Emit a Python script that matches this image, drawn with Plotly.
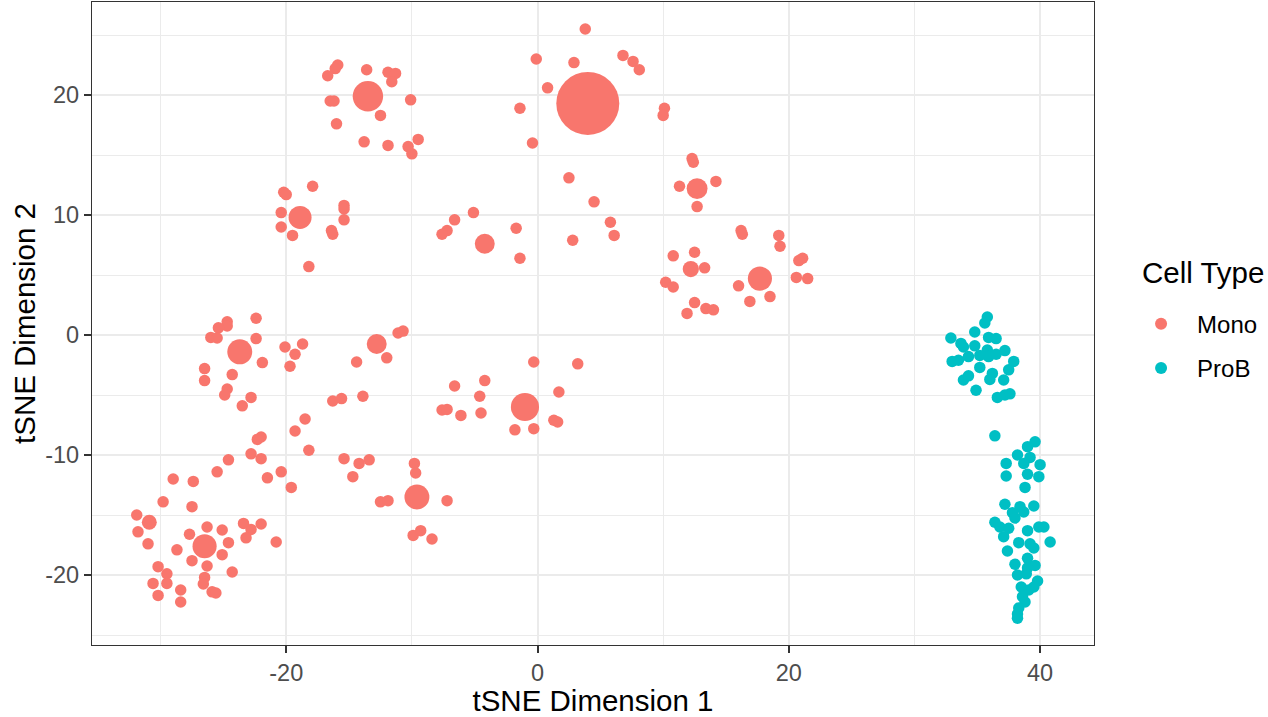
import plotly.graph_objects as go
import numpy as np

# ---- Data ----
mono_x = [
    -13.5, -15.9, -16.1, -16.7, -13.6, -11.9, -11.3, -11.6, -16.5, -16.2, -10.1, -12.5, -16.0, -13.8, -11.9, -10.3, -10.0, -9.5,
    -18.9, -20.2, -20.0, -17.9, -20.4, -20.4, -19.5, -15.4, -15.4, -15.4, -16.4, -16.3, -18.2,
    4.0, 3.8, -0.1, 2.9, 6.8, 7.6, 8.1, 0.8, -1.4, 10.1, 10.0, -0.4,
    12.7, 12.3, 12.4, 11.3, 14.2, 12.7,
    -4.2, -5.1, -6.6, -7.2, -7.6, -1.7, -1.4, 2.5, 4.5, 5.8, 6.1, 2.8,
    17.7, 16.2, 16.3, 19.2, 19.3, 21.1, 20.8, 20.6, 21.5, 16.0, 16.9, 18.5,
    12.2, 10.8, 12.5, 13.3, 10.2, 10.8, 12.5, 11.9, 13.4, 14.0,
    -23.7, -22.4, -24.7, -24.7, -25.4, -26.0, -25.5, -22.4, -21.9, -26.5, -26.5, -24.3, -24.7, -24.9, -22.8, -23.5,
    -20.1, -18.7, -19.3, -19.7,
    -12.8, -11.1, -10.7, -12.0, -14.4, -13.9, -16.3, -15.6,
    -18.5, -19.3, -18.2, -22.0, -22.3, -22.8, -22.0, -24.6, -25.5, -21.5, -20.4, -19.6, -29.0, -27.4, -29.8, -27.5,
    -9.6, -15.4, -14.2, -13.4, -14.7, -9.8, -9.7, -12.5, -11.9, -9.9, -9.3, -8.4, -7.2,
    -26.5, -31.9, -30.9, -31.8, -31.0, -27.7, -26.3, -25.1, -24.6, -25.1, -23.4, -22.8, -22.0, -23.2, -20.8, -28.7,
    -27.5, -26.3, -24.3, -30.2, -29.5, -29.5, -30.6, -30.2, -28.4, -28.4, -26.5, -26.6, -25.9, -25.6,
    -1.0, -0.3, 3.2, 1.7, -6.6, -4.2, -4.6, -7.6, -7.2, -6.1, -4.5, 1.3, 1.6, -1.8, -0.3,
]
mono_y = [
    19.9, 22.5, 22.2, 21.6, 22.1, 21.9, 21.8, 21.1, 19.5, 19.5, 19.6, 18.3, 17.6, 16.1, 15.8, 15.7, 15.1, 16.3,
    9.8, 11.9, 11.7, 12.4, 10.2, 9.0, 8.3, 10.8, 10.5, 9.6, 8.7, 8.4, 5.7,
    19.3, 25.5, 23.0, 22.7, 23.3, 22.8, 22.1, 20.6, 18.9, 18.9, 18.3, 16.0,
    12.2, 14.7, 14.4, 12.4, 12.8, 10.7,
    7.6, 10.2, 9.6, 8.7, 8.4, 8.9, 6.4, 13.1, 11.1, 9.4, 8.3, 7.9,
    4.7, 8.7, 8.4, 8.3, 7.4, 6.4, 6.2, 4.8, 4.7, 4.1, 2.8, 3.2,
    5.5, 6.6, 6.9, 5.6, 4.4, 4.0, 2.7, 1.8, 2.2, 2.1,
    -1.4, 1.4, 1.1, 0.75, 0.6, -0.2, -0.25, -0.3, -2.3, -2.8, -3.8, -3.3, -4.5, -5.0, -5.2, -5.9,
    -1.0, -0.75, -1.6, -2.6,
    -0.75, 0.17, 0.33, -1.9, -2.25, -5.1, -5.5, -5.3,
    -7.0, -8.0, -9.6, -8.5, -8.7, -9.9, -10.3, -10.4, -11.4, -11.9, -11.4, -12.7, -12.0, -12.2, -13.9, -14.3,
    -13.5, -10.3, -10.7, -10.4, -11.8, -10.7, -11.5, -13.9, -13.8, -16.7, -16.3, -17.0, -13.8,
    -17.6, -15.0, -15.6, -16.4, -17.4, -16.6, -16.0, -16.25, -17.3, -18.3, -15.7, -16.2, -15.75, -16.9, -17.25, -17.9,
    -18.8, -19.25, -19.75, -19.3, -19.9, -20.7, -20.7, -21.7, -21.25, -22.25, -20.2, -20.75, -21.4, -21.5,
    -6.0, -2.25, -2.4, -4.75, -4.25, -3.8, -5.1, -6.25, -6.2, -6.7, -6.5, -7.1, -7.25, -7.9, -7.8,
]
# relative number of overlapping cells at each plotted spot (1 = single cell)
mono_n = [1.0] * len(mono_x)
mono_centres = {0: 7, 18: 4, 31: 30, 43: 3.3, 49: 3, 61: 4.4, 73: 2, 83: 4.7, 103: 3,
                127: 4.7, 140: 4.4, 142: 1.7, 170: 6}
for i, n in mono_centres.items():
    mono_n[i] = n

prob_x = [
    35.8, 35.6, 34.8, 32.9, 33.7, 33.9, 35.9, 36.5, 34.8, 35.8, 37.2, 33.0, 33.5, 34.3, 35.2, 35.9, 36.5, 37.9,
    35.2, 37.5, 33.9, 34.3, 36.2, 36.0, 37.1, 34.9, 36.6, 37.2, 37.6,
    36.4,
    39.6, 39.0, 38.2, 39.2, 37.3, 38.7, 40.0, 37.3, 39.0, 39.9, 38.8, 37.2, 38.4, 39.5, 37.8, 38.7, 38.0, 36.4,
    36.8, 37.5, 39.9, 40.3, 37.1, 39.0, 40.8, 38.3, 39.2, 39.5, 37.4, 39.0, 38.0, 39.6, 39.0, 38.2, 38.9, 39.8,
    39.5, 38.5, 39.1, 38.6, 38.8, 38.3, 38.2, 38.2,
]
prob_y = [
    1.5, 1.0, 0.25, -0.25, -0.7, -1.0, -0.2, -0.3, -0.9, -1.25, -1.3, -2.2, -2.1, -1.8, -1.7, -1.8, -1.6, -2.2,
    -2.7, -2.9, -3.75, -3.4, -3.2, -3.7, -3.75, -4.6, -5.2, -5.0, -4.9,
    -8.4,
    -8.9, -9.3, -10.0, -10.2, -10.7, -10.7, -10.8, -11.75, -11.6, -11.8, -12.7, -14.1, -14.3, -14.25, -14.8, -14.75, -15.25, -15.6,
    -16.0, -16.1, -16.0, -16.0, -16.8, -16.3, -17.25, -17.3, -17.4, -17.75, -18.0, -18.6, -19.1, -19.2, -19.4, -20.0, -19.9, -20.5,
    -21.0, -21.0, -21.25, -21.8, -22.25, -22.75, -23.25, -23.6,
]

x_ticks = [-20, 0, 20, 40]
y_ticks = [-20, -10, 0, 10, 20]

RED = "#F8766D"
BLUE = "#00BFC4"
BASE = 11.5
FONT = "Liberation Sans, Arial, sans-serif"

fig = go.Figure()
fig.add_trace(go.Scatter(
    x=mono_x, y=mono_y, mode="markers", name="Mono",
    marker=dict(color=RED, size=[BASE * np.sqrt(n) for n in mono_n], line=dict(width=0), opacity=1),
    legendgroup="a",
))
fig.add_trace(go.Scatter(
    x=prob_x, y=prob_y, mode="markers", name="ProB",
    marker=dict(color=BLUE, size=BASE, line=dict(width=0), opacity=1),
    legendgroup="b",
))

axis_common = dict(
    showgrid=True, gridcolor="#EBEBEB", gridwidth=1.6,
    zeroline=False, showline=True, linecolor="#333333", linewidth=1.3, mirror=True,
    ticks="outside", ticklen=7, tickcolor="#333333", tickwidth=1.5,
    tickfont=dict(family=FONT, size=23.5, color="#4D4D4D"),
)

fig.update_layout(
    width=1268, height=717,
    margin=dict(l=92, r=174, t=2, b=72),
    plot_bgcolor="white", paper_bgcolor="white",
    font=dict(family=FONT, color="black"),
    xaxis=dict(
        range=[-35.46, 44.29], tickvals=x_ticks, ticktext=[str(v) for v in x_ticks],
        minor=dict(showgrid=True, gridcolor="#EBEBEB", gridwidth=0.8, dtick=10, tick0=0, ticks=""),
        title=dict(text="tSNE Dimension 1", font=dict(size=29.5, color="black"), standoff=0),
        automargin=False,
        **axis_common,
    ),
    yaxis=dict(
        range=[-25.83, 27.75], tickvals=y_ticks, ticktext=[str(v) for v in y_ticks],
        minor=dict(showgrid=True, gridcolor="#EBEBEB", gridwidth=0.8, dtick=5, tick0=0, ticks=""),
        title=dict(text="tSNE Dimension 2", font=dict(size=29.5, color="black"), standoff=0),
        automargin=False,
        **axis_common,
    ),
    legend=dict(
        font=dict(size=24, color="black"),
        itemsizing="constant", itemwidth=62,
        traceorder="grouped", tracegroupgap=10,
        x=1.031, xanchor="left", y=0.534, yanchor="top",
        bgcolor="rgba(0,0,0,0)",
    ),
    annotations=[dict(
        text="Cell Type", xref="paper", yref="paper", x=1.0459, y=0.580,
        xanchor="left", yanchor="middle", showarrow=False,
        font=dict(family=FONT, size=29.5, color="black"),
    )],
)

fig.write_html("out.html", post_script="document.body.style.margin='0';",
               config={"displayModeBar": False})
